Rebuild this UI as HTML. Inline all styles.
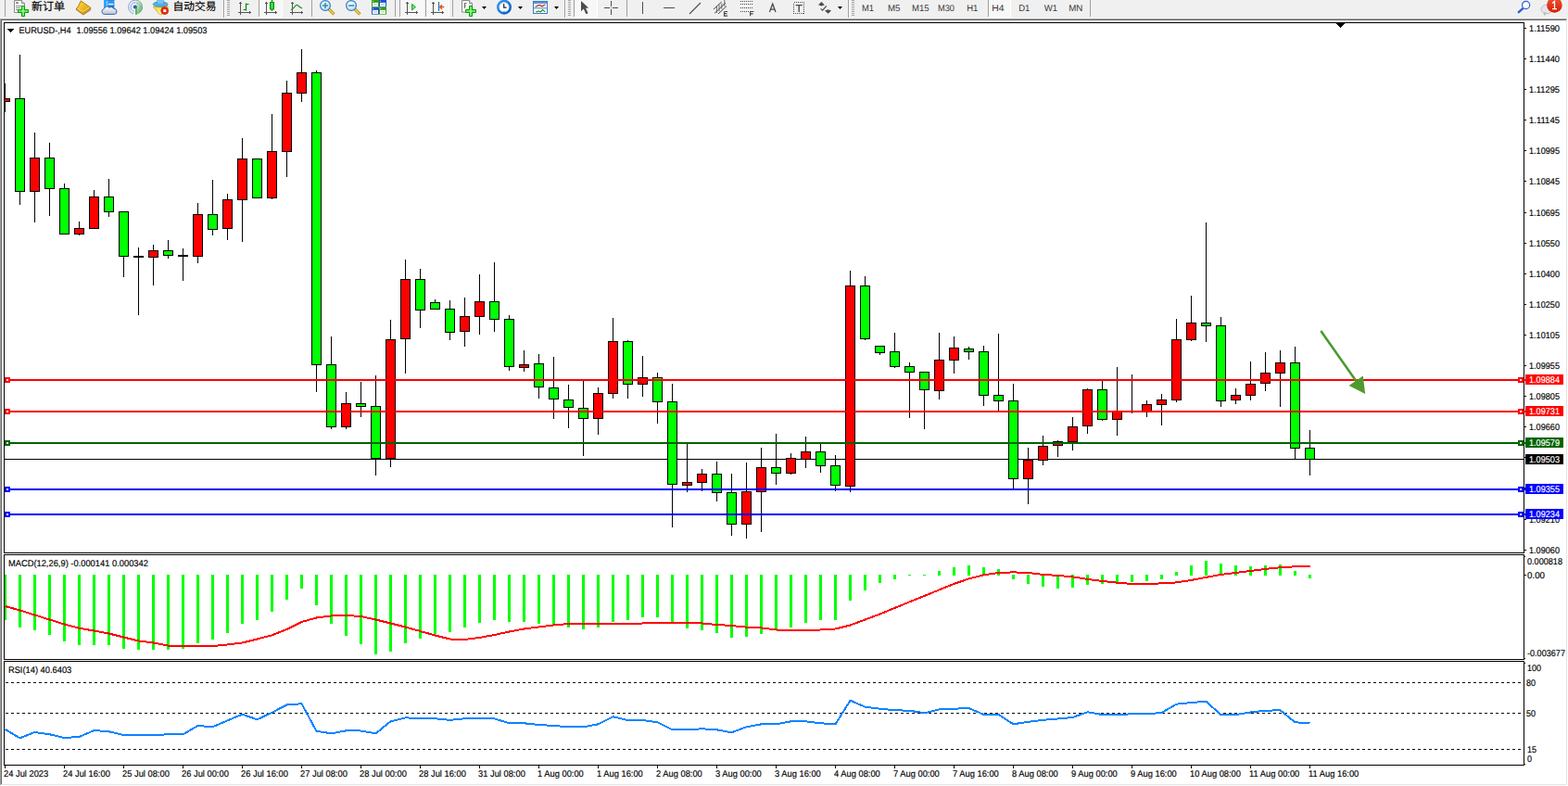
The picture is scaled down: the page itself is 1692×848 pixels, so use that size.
<!DOCTYPE html>
<html><head><meta charset="utf-8"><title>EURUSD-,H4</title>
<style>
html,body{margin:0;padding:0;background:#fff;overflow:hidden}
body{width:1692px;height:848px}
text{stroke-width:.16px}
svg{display:block;font-family:"Liberation Sans",sans-serif;font-size:9.8px;text-rendering:geometricPrecision}
</style></head><body>
<svg width="1692" height="848" viewBox="0 0 1692 848" shape-rendering="crispEdges">
<rect x="0" y="0" width="1692" height="19" fill="#f0f0f0"/>
<rect x="0" y="19" width="1692" height="1" fill="#f8f8f8"/>
<rect x="0" y="20" width="1691" height="1" fill="#a0a0a0"/>
<rect x="1" y="21" width="1690" height="1" fill="#696969"/>
<rect x="0" y="20" width="1" height="827" fill="#a0a0a0"/>
<rect x="1" y="21" width="1" height="825" fill="#696969"/>
<rect x="1690" y="21" width="1" height="826" fill="#e3e3e3"/>
<rect x="1" y="846" width="1690" height="1" fill="#e3e3e3"/>
<g fill="#000">
<rect x="4" y="24" width="1641" height="1" fill="#000"/>
<rect x="4" y="24" width="1" height="802" fill="#000"/>
<rect x="1644" y="24" width="1" height="802" fill="#000"/>
<rect x="4" y="596" width="1641" height="1" fill="#000"/>
<rect x="4" y="598" width="1641" height="1" fill="#000"/>
<rect x="4" y="711" width="1641" height="1" fill="#000"/>
<rect x="4" y="713" width="1641" height="1" fill="#000"/>
<rect x="4" y="825" width="1641" height="1" fill="#000"/>
</g>
<rect x="4" y="597" width="1641" height="1" fill="#fff"/>
<rect x="4" y="712" width="1641" height="1" fill="#fff"/>
<path d="M1442 25h9l-4.5 5z" fill="#000"/>
<rect x="1442" y="25" width="9" height="1" fill="#000"/>
<rect x="1443" y="26" width="7" height="1" fill="#000"/>
<rect x="1444" y="27" width="5" height="1" fill="#000"/>
<rect x="1445" y="28" width="3" height="1" fill="#000"/>
<rect x="1446" y="29" width="1" height="1" fill="#000"/>
<rect x="1645" y="30" width="2" height="1" fill="#000"/>
<text transform="translate(1650 34) scale(0.918 1)" stroke="#000" textLength="35.95" lengthAdjust="spacingAndGlyphs">1.11590</text>
<rect x="1645" y="63" width="2" height="1" fill="#000"/>
<text transform="translate(1650 67) scale(0.918 1)" stroke="#000" textLength="35.95" lengthAdjust="spacingAndGlyphs">1.11440</text>
<rect x="1645" y="96" width="2" height="1" fill="#000"/>
<text transform="translate(1650 100) scale(0.918 1)" stroke="#000" textLength="35.95" lengthAdjust="spacingAndGlyphs">1.11295</text>
<rect x="1645" y="129" width="2" height="1" fill="#000"/>
<text transform="translate(1650 133) scale(0.918 1)" stroke="#000" textLength="35.95" lengthAdjust="spacingAndGlyphs">1.11145</text>
<rect x="1645" y="162" width="2" height="1" fill="#000"/>
<text transform="translate(1650 166) scale(0.918 1)" stroke="#000" textLength="35.95" lengthAdjust="spacingAndGlyphs">1.10995</text>
<rect x="1645" y="195" width="2" height="1" fill="#000"/>
<text transform="translate(1650 199) scale(0.918 1)" stroke="#000" textLength="35.95" lengthAdjust="spacingAndGlyphs">1.10845</text>
<rect x="1645" y="229" width="2" height="1" fill="#000"/>
<text transform="translate(1650 233) scale(0.918 1)" stroke="#000" textLength="35.95" lengthAdjust="spacingAndGlyphs">1.10695</text>
<rect x="1645" y="262" width="2" height="1" fill="#000"/>
<text transform="translate(1650 266) scale(0.918 1)" stroke="#000" textLength="35.95" lengthAdjust="spacingAndGlyphs">1.10550</text>
<rect x="1645" y="295" width="2" height="1" fill="#000"/>
<text transform="translate(1650 299) scale(0.918 1)" stroke="#000" textLength="35.95" lengthAdjust="spacingAndGlyphs">1.10400</text>
<rect x="1645" y="328" width="2" height="1" fill="#000"/>
<text transform="translate(1650 332) scale(0.918 1)" stroke="#000" textLength="35.95" lengthAdjust="spacingAndGlyphs">1.10250</text>
<rect x="1645" y="361" width="2" height="1" fill="#000"/>
<text transform="translate(1650 365) scale(0.918 1)" stroke="#000" textLength="35.95" lengthAdjust="spacingAndGlyphs">1.10105</text>
<rect x="1645" y="394" width="2" height="1" fill="#000"/>
<text transform="translate(1650 398) scale(0.918 1)" stroke="#000" textLength="35.95" lengthAdjust="spacingAndGlyphs">1.09955</text>
<rect x="1645" y="427" width="2" height="1" fill="#000"/>
<text transform="translate(1650 431) scale(0.918 1)" stroke="#000" textLength="35.95" lengthAdjust="spacingAndGlyphs">1.09805</text>
<rect x="1645" y="460" width="2" height="1" fill="#000"/>
<text transform="translate(1650 464) scale(0.918 1)" stroke="#000" textLength="35.95" lengthAdjust="spacingAndGlyphs">1.09660</text>
<rect x="1645" y="493" width="2" height="1" fill="#000"/>
<text transform="translate(1650 497) scale(0.918 1)" stroke="#000" textLength="35.95" lengthAdjust="spacingAndGlyphs">1.09510</text>
<rect x="1645" y="526" width="2" height="1" fill="#000"/>
<text transform="translate(1650 530) scale(0.918 1)" stroke="#000" textLength="35.95" lengthAdjust="spacingAndGlyphs">1.09360</text>
<rect x="1645" y="560" width="2" height="1" fill="#000"/>
<text transform="translate(1650 564) scale(0.918 1)" stroke="#000" textLength="35.95" lengthAdjust="spacingAndGlyphs">1.09210</text>
<rect x="1645" y="593" width="2" height="1" fill="#000"/>
<text transform="translate(1650 597) scale(0.918 1)" stroke="#000" textLength="35.95" lengthAdjust="spacingAndGlyphs">1.09060</text>
<rect x="5" y="495" width="1639" height="1" fill="#000"/>
<g fill="#000"><rect x="5" y="90" width="1" height="31"/><rect x="5" y="106" width="6" height="4"/><rect x="5" y="107" width="5" height="2" fill="#f00"/><rect x="21" y="59" width="1" height="162"/><rect x="16" y="106" width="11" height="101"/><rect x="17" y="107" width="9" height="99" fill="#0f0"/><rect x="37" y="143" width="1" height="97"/><rect x="32" y="170" width="11" height="37"/><rect x="33" y="171" width="9" height="35" fill="#f00"/><rect x="53" y="154" width="1" height="79"/><rect x="48" y="170" width="11" height="34"/><rect x="49" y="171" width="9" height="32" fill="#0f0"/><rect x="69" y="198" width="1" height="55"/><rect x="64" y="203" width="11" height="50"/><rect x="65" y="204" width="9" height="48" fill="#0f0"/><rect x="85" y="239" width="1" height="15"/><rect x="80" y="246" width="11" height="7"/><rect x="81" y="247" width="9" height="5" fill="#f00"/><rect x="101" y="205" width="1" height="42"/><rect x="96" y="212" width="11" height="35"/><rect x="97" y="213" width="9" height="33" fill="#f00"/><rect x="117" y="193" width="1" height="41"/><rect x="112" y="212" width="11" height="17"/><rect x="113" y="213" width="9" height="15" fill="#0f0"/><rect x="133" y="228" width="1" height="71"/><rect x="128" y="228" width="11" height="49"/><rect x="129" y="229" width="9" height="47" fill="#0f0"/><rect x="149" y="267" width="1" height="73"/><rect x="144" y="276" width="11" height="2"/><rect x="165" y="264" width="1" height="44"/><rect x="160" y="270" width="11" height="8"/><rect x="161" y="271" width="9" height="6" fill="#f00"/><rect x="181" y="259" width="1" height="20"/><rect x="176" y="270" width="11" height="6"/><rect x="177" y="271" width="9" height="4" fill="#0f0"/><rect x="197" y="268" width="1" height="35"/><rect x="192" y="275" width="11" height="2"/><rect x="213" y="219" width="1" height="65"/><rect x="208" y="231" width="11" height="46"/><rect x="209" y="232" width="9" height="44" fill="#f00"/><rect x="229" y="194" width="1" height="60"/><rect x="224" y="231" width="11" height="17"/><rect x="225" y="232" width="9" height="15" fill="#0f0"/><rect x="245" y="209" width="1" height="50"/><rect x="240" y="215" width="11" height="32"/><rect x="241" y="216" width="9" height="30" fill="#f00"/><rect x="261" y="149" width="1" height="112"/><rect x="256" y="171" width="11" height="45"/><rect x="257" y="172" width="9" height="43" fill="#f00"/><rect x="277" y="171" width="1" height="43"/><rect x="272" y="171" width="11" height="43"/><rect x="273" y="172" width="9" height="41" fill="#0f0"/><rect x="293" y="123" width="1" height="92"/><rect x="288" y="163" width="11" height="51"/><rect x="289" y="164" width="9" height="49" fill="#f00"/><rect x="309" y="87" width="1" height="104"/><rect x="304" y="100" width="11" height="64"/><rect x="305" y="101" width="9" height="62" fill="#f00"/><rect x="325" y="53" width="1" height="57"/><rect x="320" y="78" width="11" height="23"/><rect x="321" y="79" width="9" height="21" fill="#f00"/><rect x="341" y="76" width="1" height="347"/><rect x="336" y="78" width="11" height="316"/><rect x="337" y="79" width="9" height="314" fill="#0f0"/><rect x="357" y="363" width="1" height="100"/><rect x="352" y="393" width="11" height="68"/><rect x="353" y="394" width="9" height="66" fill="#0f0"/><rect x="373" y="423" width="1" height="40"/><rect x="368" y="435" width="11" height="26"/><rect x="369" y="436" width="9" height="24" fill="#f00"/><rect x="389" y="412" width="1" height="38"/><rect x="384" y="435" width="11" height="4"/><rect x="385" y="436" width="9" height="2" fill="#0f0"/><rect x="405" y="405" width="1" height="108"/><rect x="400" y="438" width="11" height="57"/><rect x="401" y="439" width="9" height="55" fill="#0f0"/><rect x="421" y="345" width="1" height="159"/><rect x="416" y="366" width="11" height="129"/><rect x="417" y="367" width="9" height="127" fill="#f00"/><rect x="437" y="280" width="1" height="123"/><rect x="432" y="301" width="11" height="65"/><rect x="433" y="302" width="9" height="63" fill="#f00"/><rect x="453" y="290" width="1" height="64"/><rect x="448" y="301" width="11" height="34"/><rect x="449" y="302" width="9" height="32" fill="#0f0"/><rect x="469" y="323" width="1" height="11"/><rect x="464" y="326" width="11" height="8"/><rect x="465" y="327" width="9" height="6" fill="#0f0"/><rect x="485" y="324" width="1" height="43"/><rect x="480" y="333" width="11" height="26"/><rect x="481" y="334" width="9" height="24" fill="#0f0"/><rect x="501" y="321" width="1" height="53"/><rect x="496" y="341" width="11" height="17"/><rect x="497" y="342" width="9" height="15" fill="#f00"/><rect x="517" y="296" width="1" height="65"/><rect x="512" y="325" width="11" height="17"/><rect x="513" y="326" width="9" height="15" fill="#f00"/><rect x="533" y="283" width="1" height="75"/><rect x="528" y="325" width="11" height="20"/><rect x="529" y="326" width="9" height="18" fill="#0f0"/><rect x="549" y="340" width="1" height="60"/><rect x="544" y="344" width="11" height="52"/><rect x="545" y="345" width="9" height="50" fill="#0f0"/><rect x="565" y="378" width="1" height="23"/><rect x="560" y="393" width="11" height="4"/><rect x="561" y="394" width="9" height="2" fill="#f00"/><rect x="581" y="382" width="1" height="48"/><rect x="576" y="392" width="11" height="26"/><rect x="577" y="393" width="9" height="24" fill="#0f0"/><rect x="597" y="385" width="1" height="67"/><rect x="592" y="418" width="11" height="13"/><rect x="593" y="419" width="9" height="11" fill="#0f0"/><rect x="613" y="415" width="1" height="47"/><rect x="608" y="431" width="11" height="9"/><rect x="609" y="432" width="9" height="7" fill="#0f0"/><rect x="629" y="411" width="1" height="81"/><rect x="624" y="440" width="11" height="12"/><rect x="625" y="441" width="9" height="10" fill="#0f0"/><rect x="645" y="418" width="1" height="51"/><rect x="640" y="424" width="11" height="28"/><rect x="641" y="425" width="9" height="26" fill="#f00"/><rect x="661" y="343" width="1" height="87"/><rect x="656" y="368" width="11" height="57"/><rect x="657" y="369" width="9" height="55" fill="#f00"/><rect x="677" y="367" width="1" height="63"/><rect x="672" y="368" width="11" height="47"/><rect x="673" y="369" width="9" height="45" fill="#0f0"/><rect x="693" y="384" width="1" height="44"/><rect x="688" y="407" width="11" height="8"/><rect x="689" y="408" width="9" height="6" fill="#f00"/><rect x="709" y="402" width="1" height="55"/><rect x="704" y="407" width="11" height="27"/><rect x="705" y="408" width="9" height="25" fill="#0f0"/><rect x="725" y="414" width="1" height="155"/><rect x="720" y="433" width="11" height="90"/><rect x="721" y="434" width="9" height="88" fill="#0f0"/><rect x="741" y="478" width="1" height="53"/><rect x="736" y="520" width="11" height="4"/><rect x="737" y="521" width="9" height="2" fill="#f00"/><rect x="757" y="506" width="1" height="24"/><rect x="752" y="511" width="11" height="10"/><rect x="753" y="512" width="9" height="8" fill="#f00"/><rect x="773" y="498" width="1" height="43"/><rect x="768" y="511" width="11" height="21"/><rect x="769" y="512" width="9" height="19" fill="#0f0"/><rect x="789" y="511" width="1" height="67"/><rect x="784" y="531" width="11" height="35"/><rect x="785" y="532" width="9" height="33" fill="#0f0"/><rect x="805" y="499" width="1" height="82"/><rect x="800" y="530" width="11" height="36"/><rect x="801" y="531" width="9" height="34" fill="#f00"/><rect x="821" y="483" width="1" height="91"/><rect x="816" y="504" width="11" height="27"/><rect x="817" y="505" width="9" height="25" fill="#f00"/><rect x="837" y="468" width="1" height="55"/><rect x="832" y="504" width="11" height="7"/><rect x="833" y="505" width="9" height="5" fill="#0f0"/><rect x="853" y="489" width="1" height="23"/><rect x="848" y="494" width="11" height="17"/><rect x="849" y="495" width="9" height="15" fill="#f00"/><rect x="869" y="471" width="1" height="34"/><rect x="864" y="487" width="11" height="9"/><rect x="865" y="488" width="9" height="7" fill="#f00"/><rect x="885" y="479" width="1" height="31"/><rect x="880" y="487" width="11" height="16"/><rect x="881" y="488" width="9" height="14" fill="#0f0"/><rect x="901" y="491" width="1" height="39"/><rect x="896" y="502" width="11" height="22"/><rect x="897" y="503" width="9" height="20" fill="#0f0"/><rect x="917" y="292" width="1" height="239"/><rect x="912" y="308" width="11" height="217"/><rect x="913" y="309" width="9" height="215" fill="#f00"/><rect x="933" y="298" width="1" height="69"/><rect x="928" y="308" width="11" height="58"/><rect x="929" y="309" width="9" height="56" fill="#0f0"/><rect x="949" y="373" width="1" height="10"/><rect x="944" y="373" width="11" height="8"/><rect x="945" y="374" width="9" height="6" fill="#0f0"/><rect x="965" y="359" width="1" height="38"/><rect x="960" y="379" width="11" height="17"/><rect x="961" y="380" width="9" height="15" fill="#0f0"/><rect x="981" y="391" width="1" height="60"/><rect x="976" y="395" width="11" height="7"/><rect x="977" y="396" width="9" height="5" fill="#0f0"/><rect x="997" y="401" width="1" height="62"/><rect x="992" y="401" width="11" height="20"/><rect x="993" y="402" width="9" height="18" fill="#0f0"/><rect x="1013" y="359" width="1" height="72"/><rect x="1008" y="388" width="11" height="34"/><rect x="1009" y="389" width="9" height="32" fill="#f00"/><rect x="1029" y="363" width="1" height="40"/><rect x="1024" y="375" width="11" height="14"/><rect x="1025" y="376" width="9" height="12" fill="#f00"/><rect x="1045" y="374" width="1" height="14"/><rect x="1040" y="376" width="11" height="4"/><rect x="1041" y="377" width="9" height="2" fill="#0f0"/><rect x="1061" y="373" width="1" height="65"/><rect x="1056" y="379" width="11" height="48"/><rect x="1057" y="380" width="9" height="46" fill="#0f0"/><rect x="1077" y="360" width="1" height="83"/><rect x="1072" y="426" width="11" height="7"/><rect x="1073" y="427" width="9" height="5" fill="#0f0"/><rect x="1093" y="414" width="1" height="113"/><rect x="1088" y="432" width="11" height="85"/><rect x="1089" y="433" width="9" height="83" fill="#0f0"/><rect x="1109" y="483" width="1" height="61"/><rect x="1104" y="496" width="11" height="21"/><rect x="1105" y="497" width="9" height="19" fill="#f00"/><rect x="1125" y="470" width="1" height="32"/><rect x="1120" y="481" width="11" height="16"/><rect x="1121" y="482" width="9" height="14" fill="#f00"/><rect x="1141" y="475" width="1" height="18"/><rect x="1136" y="476" width="11" height="5"/><rect x="1137" y="477" width="9" height="3" fill="#f00"/><rect x="1157" y="450" width="1" height="36"/><rect x="1152" y="460" width="11" height="17"/><rect x="1153" y="461" width="9" height="15" fill="#f00"/><rect x="1173" y="419" width="1" height="49"/><rect x="1168" y="420" width="11" height="40"/><rect x="1169" y="421" width="9" height="38" fill="#f00"/><rect x="1189" y="411" width="1" height="43"/><rect x="1184" y="420" width="11" height="33"/><rect x="1185" y="421" width="9" height="31" fill="#0f0"/><rect x="1205" y="396" width="1" height="74"/><rect x="1200" y="443" width="11" height="10"/><rect x="1201" y="444" width="9" height="8" fill="#f00"/><rect x="1221" y="404" width="1" height="42"/><rect x="1216" y="444" width="11" height="1"/><rect x="1237" y="432" width="1" height="18"/><rect x="1232" y="436" width="11" height="9"/><rect x="1233" y="437" width="9" height="7" fill="#f00"/><rect x="1253" y="425" width="1" height="34"/><rect x="1248" y="431" width="11" height="6"/><rect x="1249" y="432" width="9" height="4" fill="#f00"/><rect x="1269" y="344" width="1" height="90"/><rect x="1264" y="366" width="11" height="66"/><rect x="1265" y="367" width="9" height="64" fill="#f00"/><rect x="1285" y="319" width="1" height="49"/><rect x="1280" y="348" width="11" height="19"/><rect x="1281" y="349" width="9" height="17" fill="#f00"/><rect x="1301" y="240" width="1" height="129"/><rect x="1296" y="348" width="11" height="4"/><rect x="1297" y="349" width="9" height="2" fill="#0f0"/><rect x="1317" y="342" width="1" height="97"/><rect x="1312" y="351" width="11" height="82"/><rect x="1313" y="352" width="9" height="80" fill="#0f0"/><rect x="1333" y="419" width="1" height="17"/><rect x="1328" y="426" width="11" height="6"/><rect x="1329" y="427" width="9" height="4" fill="#f00"/><rect x="1349" y="390" width="1" height="42"/><rect x="1344" y="414" width="11" height="13"/><rect x="1345" y="415" width="9" height="11" fill="#f00"/><rect x="1365" y="380" width="1" height="42"/><rect x="1360" y="402" width="11" height="12"/><rect x="1361" y="403" width="9" height="10" fill="#f00"/><rect x="1381" y="378" width="1" height="61"/><rect x="1376" y="391" width="11" height="12"/><rect x="1377" y="392" width="9" height="10" fill="#f00"/><rect x="1397" y="374" width="1" height="122"/><rect x="1392" y="391" width="11" height="93"/><rect x="1393" y="392" width="9" height="91" fill="#0f0"/><rect x="1413" y="464" width="1" height="49"/><rect x="1408" y="483" width="11" height="13"/><rect x="1409" y="484" width="9" height="11" fill="#0f0"/></g>
<rect x="5" y="409" width="1641" height="2" fill="#f00"/>
<rect x="5" y="407" width="6" height="6" fill="#f00"/>
<rect x="7" y="409" width="2" height="2" fill="#fff"/>
<rect x="1638" y="407" width="6" height="6" fill="#f00"/>
<rect x="1640" y="409" width="2" height="2" fill="#fff"/>
<rect x="1646" y="404" width="41" height="11" fill="#f00"/>
<text transform="translate(1650 413) scale(0.918 1)" fill="#fff" stroke="#fff" textLength="35.95" lengthAdjust="spacingAndGlyphs">1.09884</text>
<rect x="5" y="443" width="1641" height="2" fill="#f00"/>
<rect x="5" y="441" width="6" height="6" fill="#f00"/>
<rect x="7" y="443" width="2" height="2" fill="#fff"/>
<rect x="1638" y="441" width="6" height="6" fill="#f00"/>
<rect x="1640" y="443" width="2" height="2" fill="#fff"/>
<rect x="1646" y="438" width="41" height="11" fill="#f00"/>
<text transform="translate(1650 447) scale(0.918 1)" fill="#fff" stroke="#fff" textLength="35.95" lengthAdjust="spacingAndGlyphs">1.09731</text>
<rect x="5" y="477" width="1641" height="2" fill="#006400"/>
<rect x="5" y="475" width="6" height="6" fill="#006400"/>
<rect x="7" y="477" width="2" height="2" fill="#fff"/>
<rect x="1638" y="475" width="6" height="6" fill="#006400"/>
<rect x="1640" y="477" width="2" height="2" fill="#fff"/>
<rect x="1646" y="472" width="41" height="11" fill="#006400"/>
<text transform="translate(1650 481) scale(0.918 1)" fill="#fff" stroke="#fff" textLength="35.95" lengthAdjust="spacingAndGlyphs">1.09579</text>
<rect x="5" y="527" width="1641" height="2" fill="#00f"/>
<rect x="5" y="525" width="6" height="6" fill="#00f"/>
<rect x="7" y="527" width="2" height="2" fill="#fff"/>
<rect x="1638" y="525" width="6" height="6" fill="#00f"/>
<rect x="1640" y="527" width="2" height="2" fill="#fff"/>
<rect x="1646" y="522" width="41" height="11" fill="#00f"/>
<text transform="translate(1650 531) scale(0.918 1)" fill="#fff" stroke="#fff" textLength="35.95" lengthAdjust="spacingAndGlyphs">1.09355</text>
<rect x="5" y="554" width="1641" height="2" fill="#00f"/>
<rect x="5" y="552" width="6" height="6" fill="#00f"/>
<rect x="7" y="554" width="2" height="2" fill="#fff"/>
<rect x="1638" y="552" width="6" height="6" fill="#00f"/>
<rect x="1640" y="554" width="2" height="2" fill="#fff"/>
<rect x="1646" y="549" width="41" height="11" fill="#00f"/>
<text transform="translate(1650 558) scale(0.918 1)" fill="#fff" stroke="#fff" textLength="35.95" lengthAdjust="spacingAndGlyphs">1.09234</text>
<rect x="1646" y="490" width="41" height="11" fill="#000"/>
<text transform="translate(1650 499) scale(0.918 1)" fill="#fff" stroke="#fff" textLength="35.95" lengthAdjust="spacingAndGlyphs">1.09503</text>
<g shape-rendering="auto"><line x1="1425.3" y1="357" x2="1464" y2="412" stroke="#4e9a2f" stroke-width="2.6"/><path d="M1473.2 425 L1455.6 416 L1470.8 405.6 Z" fill="#4e9a2f"/></g>
<g fill="#0f0"><rect x="4" y="620" width="3" height="49"/><rect x="20" y="620" width="3" height="57"/><rect x="36" y="620" width="3" height="60"/><rect x="52" y="620" width="3" height="65"/><rect x="68" y="620" width="3" height="72"/><rect x="84" y="620" width="3" height="76"/><rect x="100" y="620" width="3" height="76"/><rect x="116" y="620" width="3" height="76"/><rect x="132" y="620" width="3" height="80"/><rect x="148" y="620" width="3" height="81"/><rect x="164" y="620" width="3" height="81"/><rect x="180" y="620" width="3" height="81"/><rect x="196" y="620" width="3" height="80"/><rect x="212" y="620" width="3" height="74"/><rect x="228" y="620" width="3" height="70"/><rect x="244" y="620" width="3" height="63"/><rect x="260" y="620" width="3" height="53"/><rect x="276" y="620" width="3" height="49"/><rect x="292" y="620" width="3" height="40"/><rect x="308" y="620" width="3" height="27"/><rect x="324" y="620" width="3" height="15"/><rect x="340" y="620" width="3" height="33"/><rect x="356" y="620" width="3" height="53"/><rect x="372" y="620" width="3" height="66"/><rect x="388" y="620" width="3" height="75"/><rect x="404" y="620" width="3" height="86"/><rect x="420" y="620" width="3" height="83"/><rect x="436" y="620" width="3" height="74"/><rect x="452" y="620" width="3" height="69"/><rect x="468" y="620" width="3" height="64"/><rect x="484" y="620" width="3" height="62"/><rect x="500" y="620" width="3" height="57"/><rect x="516" y="620" width="3" height="52"/><rect x="532" y="620" width="3" height="49"/><rect x="548" y="620" width="3" height="51"/><rect x="564" y="620" width="3" height="51"/><rect x="580" y="620" width="3" height="53"/><rect x="596" y="620" width="3" height="54"/><rect x="612" y="620" width="3" height="57"/><rect x="628" y="620" width="3" height="59"/><rect x="644" y="620" width="3" height="57"/><rect x="660" y="620" width="3" height="51"/><rect x="676" y="620" width="3" height="49"/><rect x="692" y="620" width="3" height="46"/><rect x="708" y="620" width="3" height="46"/><rect x="724" y="620" width="3" height="52"/><rect x="740" y="620" width="3" height="58"/><rect x="756" y="620" width="3" height="60"/><rect x="772" y="620" width="3" height="63"/><rect x="788" y="620" width="3" height="68"/><rect x="804" y="620" width="3" height="67"/><rect x="820" y="620" width="3" height="64"/><rect x="836" y="620" width="3" height="60"/><rect x="852" y="620" width="3" height="57"/><rect x="868" y="620" width="3" height="52"/><rect x="884" y="620" width="3" height="49"/><rect x="900" y="620" width="3" height="49"/><rect x="916" y="620" width="3" height="28"/><rect x="932" y="620" width="3" height="17"/><rect x="948" y="620" width="3" height="9"/><rect x="964" y="620" width="3" height="5"/><rect x="980" y="620" width="3" height="1"/><rect x="996" y="620" width="3" height="1"/><rect x="1012" y="616" width="3" height="5"/><rect x="1028" y="612" width="3" height="9"/><rect x="1044" y="610" width="3" height="11"/><rect x="1060" y="612" width="3" height="9"/><rect x="1076" y="614" width="3" height="7"/><rect x="1092" y="620" width="3" height="5"/><rect x="1108" y="620" width="3" height="10"/><rect x="1124" y="620" width="3" height="13"/><rect x="1140" y="620" width="3" height="15"/><rect x="1156" y="620" width="3" height="14"/><rect x="1172" y="620" width="3" height="11"/><rect x="1188" y="620" width="3" height="10"/><rect x="1204" y="620" width="3" height="8"/><rect x="1220" y="620" width="3" height="8"/><rect x="1236" y="620" width="3" height="7"/><rect x="1252" y="620" width="3" height="5"/><rect x="1268" y="617" width="3" height="4"/><rect x="1284" y="610" width="3" height="11"/><rect x="1300" y="605" width="3" height="16"/><rect x="1316" y="608" width="3" height="13"/><rect x="1332" y="610" width="3" height="11"/><rect x="1348" y="611" width="3" height="10"/><rect x="1364" y="610" width="3" height="11"/><rect x="1380" y="609" width="3" height="12"/><rect x="1396" y="616" width="3" height="5"/><rect x="1412" y="620" width="3" height="4"/></g>
<rect x="2" y="599" width="2" height="112" fill="#fff"/>
<rect x="4" y="599" width="1" height="112" fill="#000"/>
<polyline points="5.5,653.9 21.5,658.5 37.5,663.5 53.5,668.5 69.5,673.5 85.5,677.8 101.5,680.5 117.5,683.5 133.5,687.5 149.5,691.5 165.5,693.5 181.5,696.6 197.5,697.1 213.5,697.1 229.5,697.1 245.5,695.5 261.5,693.5 277.5,689.5 293.5,685.3 309.5,679.0 325.5,671.0 341.5,666.5 357.5,664.5 373.5,664.0 389.5,665.0 405.5,668.5 421.5,672.5 437.5,676.5 453.5,681.0 469.5,685.5 485.5,689.5 501.5,690.0 517.5,688.0 533.5,685.0 549.5,681.5 565.5,678.5 581.5,676.5 597.5,674.5 613.5,673.0 629.5,673.0 645.5,673.0 661.5,673.0 677.5,673.0 693.5,672.5 709.5,672.0 725.5,672.0 741.5,672.0 757.5,672.5 773.5,674.0 789.5,675.0 805.5,676.7 821.5,677.5 837.5,679.5 853.5,680.0 869.5,680.0 885.5,679.5 901.5,678.5 917.5,674.5 933.5,668.5 949.5,662.5 965.5,655.9 981.5,649.4 997.5,642.9 1013.5,636.4 1029.5,629.9 1045.5,624.4 1061.5,620.4 1077.5,617.9 1093.5,617.4 1109.5,617.9 1125.5,619.9 1141.5,620.9 1157.5,622.4 1173.5,624.9 1189.5,626.9 1205.5,628.7 1221.5,629.9 1237.5,629.9 1253.5,629.4 1269.5,628.4 1285.5,625.9 1301.5,622.9 1317.5,619.9 1333.5,617.9 1349.5,615.9 1365.5,613.9 1381.5,612.3 1397.5,611.3 1413.5,611.3" fill="none" stroke="#f00" stroke-width="2" stroke-linejoin="round" shape-rendering="crispEdges"/>
<text transform="translate(8.9 611) scale(0.918 1)" stroke="#000" textLength="164.49" lengthAdjust="spacingAndGlyphs">MACD(12,26,9) -0.000141 0.000342</text>
<rect x="1645" y="600" width="1" height="1" fill="#000"/>
<rect x="1645" y="710" width="1" height="1" fill="#000"/>
<rect x="1645" y="715" width="1" height="1" fill="#000"/>
<rect x="1645" y="824" width="1" height="1" fill="#000"/>
<text transform="translate(1648 609) scale(0.918 1)" stroke="#000" textLength="41.39" lengthAdjust="spacingAndGlyphs">0.000818</text>
<rect x="1645" y="620" width="2" height="1" fill="#000"/>
<text transform="translate(1648 624) scale(0.918 1)" stroke="#000" textLength="20.70" lengthAdjust="spacingAndGlyphs">0.00</text>
<text transform="translate(1648 708) scale(0.918 1)" stroke="#000" textLength="44.66" lengthAdjust="spacingAndGlyphs">-0.003677</text>
<path d="M6 736.5H1644" stroke="#000" stroke-width="1" stroke-dasharray="3 3" fill="none"/>
<path d="M6 769.5H1644" stroke="#000" stroke-width="1" stroke-dasharray="3 3" fill="none"/>
<path d="M6 808.5H1644" stroke="#000" stroke-width="1" stroke-dasharray="3 3" fill="none"/>
<polyline points="5.5,786.8 21.5,796.3 37.5,790.0 53.5,792.3 69.5,796.0 85.5,795.0 101.5,788.0 117.5,789.3 133.5,793.0 149.5,793.3 165.5,793.0 181.5,792.3 197.5,792.3 213.5,783.0 229.5,784.3 245.5,777.3 261.5,770.7 277.5,776.3 293.5,768.7 309.5,760.5 325.5,759.2 341.5,788.8 357.5,791.3 373.5,788.3 389.5,788.5 405.5,791.3 421.5,778.3 437.5,774.3 453.5,775.3 469.5,775.3 485.5,776.8 501.5,775.3 517.5,775.3 533.5,775.3 549.5,780.3 565.5,780.3 581.5,782.0 597.5,783.0 613.5,784.3 629.5,784.3 645.5,781.3 661.5,773.3 677.5,777.0 693.5,777.0 709.5,779.3 725.5,787.3 741.5,787.3 757.5,786.3 773.5,787.3 789.5,790.3 805.5,784.3 821.5,781.3 837.5,781.3 853.5,778.3 869.5,778.3 885.5,780.3 901.5,781.3 917.5,755.7 933.5,762.7 949.5,764.7 965.5,766.3 981.5,766.7 997.5,769.3 1013.5,765.3 1029.5,764.7 1045.5,764.0 1061.5,771.0 1077.5,771.0 1093.5,781.3 1109.5,778.8 1125.5,776.8 1141.5,775.5 1157.5,774.0 1173.5,768.3 1189.5,771.0 1205.5,771.0 1221.5,770.3 1237.5,770.3 1253.5,769.0 1269.5,759.7 1285.5,758.0 1301.5,756.7 1317.5,771.3 1333.5,771.0 1349.5,768.5 1365.5,766.7 1381.5,766.3 1397.5,779.3 1413.5,780.3" fill="none" stroke="#0a84ff" stroke-width="2" stroke-linejoin="round" shape-rendering="crispEdges"/>
<text transform="translate(8.9 726) scale(0.918 1)" stroke="#000" textLength="74.51" lengthAdjust="spacingAndGlyphs">RSI(14) 40.6403</text>
<text transform="translate(1648 724) scale(0.918 1)" stroke="#000">100</text>
<text transform="translate(1647 740) scale(0.918 1)" stroke="#000">80</text>
<text transform="translate(1647 773) scale(0.918 1)" stroke="#000">50</text>
<text transform="translate(1648 812) scale(0.918 1)" stroke="#000">15</text>
<text transform="translate(1648 822) scale(0.918 1)" stroke="#000">0</text>
<rect x="5" y="826" width="1" height="3" fill="#000"/>
<text transform="translate(4.1 838) scale(0.95 1)" stroke="#000">24 Jul 2023</text>
<rect x="69" y="826" width="1" height="3" fill="#000"/>
<text transform="translate(68.1 838) scale(0.95 1)" stroke="#000">24 Jul 16:00</text>
<rect x="133" y="826" width="1" height="3" fill="#000"/>
<text transform="translate(132.1 838) scale(0.95 1)" stroke="#000">25 Jul 08:00</text>
<rect x="197" y="826" width="1" height="3" fill="#000"/>
<text transform="translate(196.1 838) scale(0.95 1)" stroke="#000">26 Jul 00:00</text>
<rect x="261" y="826" width="1" height="3" fill="#000"/>
<text transform="translate(260.1 838) scale(0.95 1)" stroke="#000">26 Jul 16:00</text>
<rect x="325" y="826" width="1" height="3" fill="#000"/>
<text transform="translate(324.1 838) scale(0.95 1)" stroke="#000">27 Jul 08:00</text>
<rect x="389" y="826" width="1" height="3" fill="#000"/>
<text transform="translate(388.1 838) scale(0.95 1)" stroke="#000">28 Jul 00:00</text>
<rect x="453" y="826" width="1" height="3" fill="#000"/>
<text transform="translate(452.1 838) scale(0.95 1)" stroke="#000">28 Jul 16:00</text>
<rect x="517" y="826" width="1" height="3" fill="#000"/>
<text transform="translate(516.1 838) scale(0.95 1)" stroke="#000">31 Jul 08:00</text>
<rect x="581" y="826" width="1" height="3" fill="#000"/>
<text transform="translate(580.1 838) scale(0.95 1)" stroke="#000">1 Aug 00:00</text>
<rect x="645" y="826" width="1" height="3" fill="#000"/>
<text transform="translate(644.1 838) scale(0.95 1)" stroke="#000">1 Aug 16:00</text>
<rect x="709" y="826" width="1" height="3" fill="#000"/>
<text transform="translate(708.1 838) scale(0.95 1)" stroke="#000">2 Aug 08:00</text>
<rect x="773" y="826" width="1" height="3" fill="#000"/>
<text transform="translate(772.1 838) scale(0.95 1)" stroke="#000">3 Aug 00:00</text>
<rect x="837" y="826" width="1" height="3" fill="#000"/>
<text transform="translate(836.1 838) scale(0.95 1)" stroke="#000">3 Aug 16:00</text>
<rect x="901" y="826" width="1" height="3" fill="#000"/>
<text transform="translate(900.1 838) scale(0.95 1)" stroke="#000">4 Aug 08:00</text>
<rect x="965" y="826" width="1" height="3" fill="#000"/>
<text transform="translate(964.1 838) scale(0.95 1)" stroke="#000">7 Aug 00:00</text>
<rect x="1029" y="826" width="1" height="3" fill="#000"/>
<text transform="translate(1028.1 838) scale(0.95 1)" stroke="#000">7 Aug 16:00</text>
<rect x="1093" y="826" width="1" height="3" fill="#000"/>
<text transform="translate(1092.1 838) scale(0.95 1)" stroke="#000">8 Aug 08:00</text>
<rect x="1157" y="826" width="1" height="3" fill="#000"/>
<text transform="translate(1156.1 838) scale(0.95 1)" stroke="#000">9 Aug 00:00</text>
<rect x="1221" y="826" width="1" height="3" fill="#000"/>
<text transform="translate(1220.1 838) scale(0.95 1)" stroke="#000">9 Aug 16:00</text>
<rect x="1285" y="826" width="1" height="3" fill="#000"/>
<text transform="translate(1284.1 838) scale(0.95 1)" stroke="#000">10 Aug 08:00</text>
<rect x="1349" y="826" width="1" height="3" fill="#000"/>
<text transform="translate(1348.1 838) scale(0.95 1)" stroke="#000">11 Aug 00:00</text>
<rect x="1413" y="826" width="1" height="3" fill="#000"/>
<text transform="translate(1412.1 838) scale(0.95 1)" stroke="#000">11 Aug 16:00</text>
<path d="M8 31h7l-3.5 4z" fill="#000"/>
<rect x="8" y="31" width="7" height="1" fill="#000"/>
<rect x="9" y="32" width="5" height="1" fill="#000"/>
<rect x="10" y="33" width="3" height="1" fill="#000"/>
<rect x="11" y="34" width="1" height="1" fill="#000"/>
<text transform="translate(20.4 36) scale(0.918 1)" stroke="#000" textLength="61.22" lengthAdjust="spacingAndGlyphs">EURUSD-,H4</text>
<text transform="translate(82.6 36) scale(0.918 1)" stroke="#000" textLength="153.49" lengthAdjust="spacingAndGlyphs">1.09556 1.09642 1.09424 1.09503</text>
<g shape-rendering="auto">
<defs>
<linearGradient id="gold" x1="0" y1="0" x2="1" y2="1"><stop offset="0" stop-color="#ffe060"/><stop offset=".5" stop-color="#f0b818"/><stop offset="1" stop-color="#c88010"/></linearGradient>
<linearGradient id="bl" x1="0" y1="0" x2="0" y2="1"><stop offset="0" stop-color="#30a8ff"/><stop offset="1" stop-color="#0878e0"/></linearGradient>
<linearGradient id="cl" x1="0" y1="0" x2="0" y2="1"><stop offset="0" stop-color="#ffffff"/><stop offset="1" stop-color="#b8c4dc"/></linearGradient>
<radialGradient id="lens" cx=".4" cy=".35" r=".7"><stop offset="0" stop-color="#f4fbff"/><stop offset="1" stop-color="#b8e0f4"/></radialGradient>
<linearGradient id="rd" x1="0" y1="0" x2="0" y2="1"><stop offset="0" stop-color="#e85838"/><stop offset="1" stop-color="#dc1c00"/></linearGradient>
<linearGradient id="ck" x1="0" y1="0" x2="1" y2="1"><stop offset="0" stop-color="#3aa0f0"/><stop offset="1" stop-color="#0858c0"/></linearGradient>
<pattern id="chk" width="2" height="2" patternUnits="userSpaceOnUse"><rect width="2" height="2" fill="#fff"/><rect width="1" height="1" fill="#f0f0f0"/><rect x="1" y="1" width="1" height="1" fill="#f0f0f0"/></pattern>
<clipPath id="tbclip"><rect x="0" y="0" width="1692" height="19"/></clipPath>
</defs>
<g clip-path="url(#tbclip)">
<rect x="5" y="0" width="1" height="18" fill="#a0a0a0" shape-rendering="crispEdges"/>
<path d="M15.5 0.5h8l3 3v10h-11z" fill="#fff" stroke="#8a8a8a"/><path d="M23.5 0.5v3h3" fill="#e8e8e8" stroke="#8a8a8a"/>
<path d="M17 6.5h6M17 8.5h5M17 10.5h3" stroke="#8c8c8c" fill="none"/><rect x="17" y="2.2" width="3" height="1.6" fill="#7c7c7c"/>
<path d="M23.5 6.5h3v4h4v3h-4v4h-3v-4h-4v-3h4z" fill="#22d822" stroke="#0e980e" stroke-width="1"/><path d="M24.4 7h1.2v4.4h4.4v1.2h-4.4v4.4h-1.2v-4.4h-4.4v-1.2h4.4z" fill="#a4ffa4"/>
<text x="34" y="11.3" font-size="12" fill="#000" stroke="#000" font-family="'Liberation Sans','Noto Sans CJK SC',sans-serif" textLength="36" lengthAdjust="spacingAndGlyphs">新订单</text>
<path d="M87.2 .9 L97.9 8.4 L97.5 10.8 L89.8 15.9 L82 10.2 Q85.4 6.4 87.2 .9 Z" fill="url(#gold)" stroke="#b07a14" stroke-width="1"/><path d="M82.8 10.6 L89.7 15 L97.3 9.8 L96.8 8.2 L89.4 13 L83.4 9.4z" fill="#c89a3c" opacity=".85"/><path d="M84.2 9.6 L89.4 12.6 L96.4 8" fill="none" stroke="#fff0a0" stroke-width=".9" opacity=".9"/>
<path d="M112 -1h11.4v10.5h-11.4z" fill="url(#bl)"/><path d="M112 -1l3.6 1.6v9l-3.6 0z" fill="#28a8ff"/><path d="M115.7 .6v9" stroke="#d8f0ff" stroke-width=".8"/><path d="M112 -1h11.4v1.6h-7.8l-3.6 -1.2z" fill="#5c5cb8"/><rect x="117" y="3.8" width="5.4" height="1.5" fill="#e8f6ff"/><rect x="117" y="6.6" width="5.4" height="1" fill="#0860c0" opacity=".6"/>
<path d="M112.8 15.4 a3 3 0 0 1 -.6 -5.9 a3.4 3.4 0 0 1 5.8 -1.3 a3.2 3.2 0 0 1 4.6 1.2 a3 3 0 0 1 .8 6 z" fill="url(#cl)" stroke="#4464a8" stroke-width="1"/>
<defs><linearGradient id="sg" x1="0" y1="0" x2=".6" y2="1"><stop offset="0" stop-color="#e0eedc" stop-opacity=".5"/><stop offset="1" stop-color="#38a838" stop-opacity=".75"/></linearGradient></defs><path d="M146.8 7.7 V15.6 A7.9 7.9 0 0 0 153.7 6 A7.9 7.9 0 0 0 146.8 -.2 z" fill="url(#sg)"/><g fill="none" stroke-width="1"><path d="M146.4 .2 A7.5 7.5 0 0 0 144 14.9" stroke="#3c6cd8" opacity=".6"/><path d="M146.4 2.9 A4.8 4.8 0 0 0 144.6 12.3" stroke="#3c6cd8" opacity=".55"/><path d="M146.6 .2 A7.5 7.5 0 0 1 150.5 13.7" stroke="#4c8c8c" opacity=".6"/><path d="M146.6 2.9 A4.8 4.8 0 0 1 149.6 11.4" stroke="#5c9c90" opacity=".55"/></g><circle cx="145.8" cy="7.6" r="2" fill="#2a58d0"/><path d="M146.9 8V15.7" stroke="#20a820" stroke-width="1.3"/>
<defs><linearGradient id="yf" x1="0" y1="0" x2=".3" y2="1"><stop offset="0" stop-color="#f4cc30"/><stop offset="1" stop-color="#ffff98"/></linearGradient></defs><path d="M165.4 7.4 L181 6.4 L181 9 L174.4 15.6 Q172.8 16.2 171.6 15 Z" fill="url(#yf)" stroke="#c8981c" stroke-width=".7"/><ellipse cx="173.1" cy="4.6" rx="7.9" ry="2.7" fill="#58b0e4" stroke="#2484b4" stroke-width=".8"/><path d="M169.2 3.9 Q169.4 -3 173.1 -3.2 Q176.8 -3 177 3.9 Q173.2 5.6 169.2 3.9z" fill="#74c4f4" stroke="#2c8cbc" stroke-width=".5"/><circle cx="177.7" cy="11.5" r="3.9" fill="#f02c0c" stroke="#c42408" stroke-width=".9"/><rect x="176.3" y="10.2" width="2.9" height="2.8" fill="#fff"/>
<text x="186.6" y="11.2" font-size="11.75" fill="#000" stroke="#000" font-family="'Liberation Sans','Noto Sans CJK SC',sans-serif" textLength="47" lengthAdjust="spacingAndGlyphs">自动交易</text>
<rect x="241" y="0" width="1" height="20" fill="#a0a0a0" shape-rendering="crispEdges"/>
<rect x="242" y="0" width="1" height="19" fill="#fbfbfb" shape-rendering="crispEdges"/>
<g fill="#a6a6a6" shape-rendering="crispEdges"><rect x="245" y="0" width="3" height="1"/><rect x="245" y="2" width="3" height="1"/><rect x="245" y="4" width="3" height="1"/><rect x="245" y="6" width="3" height="1"/><rect x="245" y="8" width="3" height="1"/><rect x="245" y="10" width="3" height="1"/><rect x="245" y="12" width="3" height="1"/><rect x="245" y="14" width="3" height="1"/><rect x="245" y="16" width="3" height="1"/></g>
<g fill="#555" shape-rendering="crispEdges"><rect x="259" y="2" width="1" height="14"/><rect x="258" y="3" width="3" height="1"/><rect x="257" y="13" width="14" height="1"/><rect x="269" y="12" width="1" height="3"/></g>
<path d="M265.5 3.5V11.5M265.5 4.5h3M262.5 10.5h3" stroke="#088a08" stroke-width="1.2" fill="none"/>
<rect x="279" y="0" width="25" height="19" fill="url(#chk)" shape-rendering="crispEdges"/>
<rect x="279" y="0" width="1" height="18" fill="#a0a0a0" shape-rendering="crispEdges"/>
<rect x="279" y="18" width="26" height="1" fill="#fff" shape-rendering="crispEdges"/>
<rect x="304" y="0" width="1" height="19" fill="#fff" shape-rendering="crispEdges"/>
<g fill="#555" shape-rendering="crispEdges"><rect x="287" y="2" width="1" height="14"/><rect x="286" y="3" width="3" height="1"/><rect x="285" y="13" width="14" height="1"/><rect x="297" y="12" width="1" height="3"/></g>
<path d="M293.5 0V12" stroke="#088a08" stroke-width="1.2"/><rect x="291.5" y="2.5" width="4" height="7.5" fill="#30e040" stroke="#088a08" stroke-width="1"/>
<g fill="#555" shape-rendering="crispEdges"><rect x="315" y="2" width="1" height="14"/><rect x="314" y="3" width="3" height="1"/><rect x="313" y="13" width="14" height="1"/><rect x="325" y="12" width="1" height="3"/></g>
<path d="M314 10.8 q3 -2 4.5 -4.2 q1.6 -2.2 3.2 -.6 q2 2.2 4.4 3" stroke="#2c962c" stroke-width="1.2" fill="none"/>
<rect x="336" y="0" width="1" height="18" fill="#a0a0a0" shape-rendering="crispEdges"/>
<path d="M354.6 9.6 l5.8 5.8" stroke="#b48a18" stroke-width="3.2"/><path d="M354.8 9.8 l5.2 5.2" stroke="#f4d848" stroke-width="1.6"/><circle cx="351" cy="6" r="5.4" fill="url(#lens)" stroke="#2e7cc4" stroke-width="1.2"/>
<path d="M348 6h6M351 3v6" stroke="#3c84ac" stroke-width="1.5" fill="none"/>
<path d="M382.6 9.6 l5.8 5.8" stroke="#b48a18" stroke-width="3.2"/><path d="M382.8 9.8 l5.2 5.2" stroke="#f4d848" stroke-width="1.6"/><circle cx="379" cy="6" r="5.4" fill="url(#lens)" stroke="#2e7cc4" stroke-width="1.2"/>
<path d="M376 6h6" stroke="#3c84ac" stroke-width="1.5" fill="none"/>
<rect x="401" y="-0.2" width="8" height="7.8" fill="#34a014"/><rect x="402" y="2.9" width="6" height="4" fill="#fff"/><rect x="403" y="4.3" width="4" height="1" fill="#98d880"/><rect x="401.9" y="0.8" width="1" height="1" fill="#fff" opacity=".8"/>
<rect x="409" y="-0.2" width="8" height="7.8" fill="#1c50d0"/><rect x="410" y="2.9" width="6" height="4" fill="#fff"/><rect x="411" y="4.3" width="4" height="1" fill="#90b0f4"/><rect x="409.9" y="0.8" width="1" height="1" fill="#fff" opacity=".8"/>
<rect x="401" y="7.8" width="8" height="7.8" fill="#1c50d0"/><rect x="402" y="10.9" width="6" height="4" fill="#fff"/><rect x="403" y="12.3" width="4" height="1" fill="#90b0f4"/><rect x="401.9" y="8.8" width="1" height="1" fill="#fff" opacity=".8"/>
<rect x="409" y="7.8" width="8" height="7.8" fill="#34a014"/><rect x="410" y="10.9" width="6" height="4" fill="#fff"/><rect x="411" y="12.3" width="4" height="1" fill="#98d880"/><rect x="409.9" y="8.8" width="1" height="1" fill="#fff" opacity=".8"/>
<rect x="426" y="0" width="1" height="18" fill="#a0a0a0" shape-rendering="crispEdges"/>
<rect x="431" y="0" width="25" height="19" fill="url(#chk)" shape-rendering="crispEdges"/>
<rect x="431" y="0" width="1" height="18" fill="#a0a0a0" shape-rendering="crispEdges"/>
<rect x="431" y="18" width="26" height="1" fill="#fff" shape-rendering="crispEdges"/>
<rect x="456" y="0" width="1" height="19" fill="#fff" shape-rendering="crispEdges"/>
<g fill="#555" shape-rendering="crispEdges"><rect x="439" y="2" width="1" height="14"/><rect x="438" y="3" width="3" height="1"/><rect x="437" y="13" width="14" height="1"/><rect x="449" y="12" width="1" height="3"/></g>
<path d="M444.6 4.4 L448.4 7.6 L444.6 10.8z" fill="#7ce87c" stroke="#10a010" stroke-width="1"/>
<rect x="459" y="0" width="25" height="19" fill="url(#chk)" shape-rendering="crispEdges"/>
<rect x="459" y="0" width="1" height="18" fill="#a0a0a0" shape-rendering="crispEdges"/>
<rect x="459" y="18" width="26" height="1" fill="#fff" shape-rendering="crispEdges"/>
<rect x="484" y="0" width="1" height="19" fill="#fff" shape-rendering="crispEdges"/>
<g fill="#555" shape-rendering="crispEdges"><rect x="467" y="2" width="1" height="14"/><rect x="466" y="3" width="3" height="1"/><rect x="465" y="13" width="14" height="1"/><rect x="477" y="12" width="1" height="3"/></g>
<path d="M473.5 2V12" stroke="#1878b4" stroke-width="1.2"/><path d="M474.6 7.5h4.6M474.4 7.5l2.6 -2.2M474.4 7.5l2.6 2.2" stroke="#e05010" stroke-width="1.3" fill="none"/>
<rect x="488" y="0" width="1" height="18" fill="#a0a0a0" shape-rendering="crispEdges"/>
<path d="M498.5 0.5h8l3 3v9.6h-11z" fill="#fff" stroke="#8a8a8a"/><path d="M506.5 0.5v3h3" fill="#e8e8e8" stroke="#8a8a8a"/>
<path d="M501.5 3v6M501.5 3.5h2M501.5 6h1.5" stroke="#6a6048" fill="none" stroke-width=".9"/>
<path d="M506.5 6.5h3v4h4v3h-4v4h-3v-4h-4v-3h4z" fill="#22d822" stroke="#0e980e" stroke-width="1"/><path d="M507.4 7h1.2v4.4h4.4v1.2h-4.4v4.4h-1.2v-4.4h-4.4v-1.2h4.4z" fill="#a4ffa4"/>
<path d="M520 7h5l-2.5 3z" fill="#000"/>
<circle cx="544" cy="7.7" r="6.7" fill="#fff" stroke="url(#ck)" stroke-width="2.6"/><path d="M543.7 4V8.1H546.6" stroke="#222" stroke-width="1.2" fill="none"/><g fill="#a8a8a8"><circle cx="544" cy="2.6" r=".5"/><circle cx="549" cy="7.7" r=".5"/><circle cx="539" cy="7.7" r=".5"/><circle cx="546.6" cy="3.6" r=".4"/><circle cx="541.4" cy="3.6" r=".4"/><circle cx="541.4" cy="11.8" r=".4"/><circle cx="546.6" cy="11.8" r=".4"/></g><rect x="542.6" y="11.8" width="2.8" height=".9" fill="#58a8f0"/>
<path d="M559 7h5l-2.5 3z" fill="#000"/>
<rect x="575.5" y="1.5" width="15" height="13" fill="#fff" stroke="#3c78c0" stroke-width="1"/><rect x="576" y="2" width="14" height="2" fill="#5c98dc"/><path d="M576 8.8h14" stroke="#3c78c0" stroke-width=".9"/><path d="M577.4 7 h1.8 l1.6 -1.4 h2 l1.4 1 h1.6 l1.6 -1.4 h1.2" stroke="#a82808" stroke-width="1.1" fill="none"/><path d="M578.2 12.6 h1.6 l1.2 -.8 l1.4 .8 h1.2 l2 -2 l2.6 2.2" stroke="#0c9420" stroke-width="1.1" fill="none"/>
<path d="M598 7h5l-2.5 3z" fill="#000"/>
<rect x="609" y="0" width="1" height="20" fill="#a0a0a0" shape-rendering="crispEdges"/>
<rect x="610" y="0" width="1" height="19" fill="#fbfbfb" shape-rendering="crispEdges"/>
<g fill="#a6a6a6" shape-rendering="crispEdges"><rect x="613" y="0" width="3" height="1"/><rect x="613" y="2" width="3" height="1"/><rect x="613" y="4" width="3" height="1"/><rect x="613" y="6" width="3" height="1"/><rect x="613" y="8" width="3" height="1"/><rect x="613" y="10" width="3" height="1"/><rect x="613" y="12" width="3" height="1"/><rect x="613" y="14" width="3" height="1"/><rect x="613" y="16" width="3" height="1"/></g>
<rect x="619" y="0" width="25" height="19" fill="url(#chk)" shape-rendering="crispEdges"/>
<rect x="619" y="0" width="1" height="18" fill="#a0a0a0" shape-rendering="crispEdges"/>
<rect x="619" y="18" width="26" height="1" fill="#fff" shape-rendering="crispEdges"/>
<rect x="644" y="0" width="1" height="19" fill="#fff" shape-rendering="crispEdges"/>
<path d="M627 1 V12.2 L629.8 9.6 L632.4 15.2 L634.6 14.2 L632 8.8 L635.2 8.6 Z" fill="#4c4c4c"/>
<path d="M659.5 1V7M659.5 10V16M652 8.5H658M661 8.5H667" stroke="#4c4c4c" stroke-width="1" fill="none" shape-rendering="crispEdges"/><rect x="659" y="8" width="1" height="1" fill="#777"/>
<rect x="676" y="0" width="1" height="18" fill="#a0a0a0" shape-rendering="crispEdges"/>
<rect x="693" y="2" width="1" height="13" fill="#4c4c4c" shape-rendering="crispEdges"/>
<rect x="716" y="8" width="12" height="1" fill="#4c4c4c" shape-rendering="crispEdges"/>
<path d="M744 15 L756 3" stroke="#4c4c4c" stroke-width="1.1"/>
<g stroke="#4c4c4c" stroke-width="1" fill="none"><path d="M770 10 L778.6 2M771 14.4 L783 3M775 15 L784 6.6"/><path d="M773.4 7v7M776 5v7.4M778.8 3.4v6.4M781.8 0v7" stroke-width=".8"/></g>
<path d="M781.5 12.5v4.6h3.6M781.5 12.5h3.6M781.5 14.7h3" stroke="#4c4c4c" stroke-width="1.2" fill="none"/>
<path d="M799 1.5H812" stroke="#4c4c4c" stroke-width="1" stroke-dasharray="1 1" shape-rendering="crispEdges"/>
<path d="M799 4.5H812" stroke="#4c4c4c" stroke-width="1" stroke-dasharray="1 1" shape-rendering="crispEdges"/>
<path d="M799 8.5H812" stroke="#4c4c4c" stroke-width="1" stroke-dasharray="1 1" shape-rendering="crispEdges"/>
<path d="M799 12.5H808" stroke="#4c4c4c" stroke-width="1" stroke-dasharray="1 1" shape-rendering="crispEdges"/>
<path d="M809.6 17.2v-4.7h3.8M809.6 14.8h3" stroke="#4c4c4c" stroke-width="1.2" fill="none"/>
<path d="M830.4 13 L833.7 4.2 L837 13 M831.6 10.2h4.2" stroke="#4c4c4c" stroke-width="1.3" fill="none"/>
<rect x="856.5" y="2.5" width="11" height="12" fill="none" stroke="#4c4c4c" stroke-width="1" stroke-dasharray="1 1" shape-rendering="crispEdges"/><path d="M858.6 5.6h7.2M862.2 5.6V13" stroke="#4c4c4c" stroke-width="1.4" fill="none"/>
<path d="M886.4 2 L889.8 5.2 L886.4 6.6 L883 5.2z" fill="#4c4c4c"/><path d="M893.6 14.8 L890 11.6 L893.6 10.2 L897 11.6z" fill="#4c4c4c"/><path d="M885.6 9.4 L887.6 11.2 L891.8 6.4" stroke="#4c4c4c" stroke-width="1.2" fill="none"/>
<path d="M904 7h5l-2.5 3z" fill="#000"/>
<rect x="915" y="0" width="1" height="20" fill="#a0a0a0" shape-rendering="crispEdges"/>
<rect x="916" y="0" width="1" height="19" fill="#fbfbfb" shape-rendering="crispEdges"/>
<g fill="#a6a6a6" shape-rendering="crispEdges"><rect x="919" y="0" width="3" height="1"/><rect x="919" y="2" width="3" height="1"/><rect x="919" y="4" width="3" height="1"/><rect x="919" y="6" width="3" height="1"/><rect x="919" y="8" width="3" height="1"/><rect x="919" y="10" width="3" height="1"/><rect x="919" y="12" width="3" height="1"/><rect x="919" y="14" width="3" height="1"/><rect x="919" y="16" width="3" height="1"/></g>
<rect x="1066" y="0" width="24" height="19" fill="url(#chk)" shape-rendering="crispEdges"/>
<rect x="1066" y="0" width="1" height="18" fill="#a0a0a0" shape-rendering="crispEdges"/>
<rect x="1066" y="18" width="25" height="1" fill="#fff" shape-rendering="crispEdges"/>
<rect x="1090" y="0" width="1" height="19" fill="#fff" shape-rendering="crispEdges"/>
<text transform="translate(930 12) scale(.918 1)" fill="#3a3a3a" stroke="none" textLength="14.16" lengthAdjust="spacingAndGlyphs">M1</text>
<text transform="translate(958 12) scale(.918 1)" fill="#3a3a3a" stroke="none" textLength="14.71" lengthAdjust="spacingAndGlyphs">M5</text>
<text transform="translate(984 12) scale(.918 1)" fill="#3a3a3a" stroke="none" textLength="20.15" lengthAdjust="spacingAndGlyphs">M15</text>
<text transform="translate(1012 12) scale(.918 1)" fill="#3a3a3a" stroke="none" textLength="19.61" lengthAdjust="spacingAndGlyphs">M30</text>
<text transform="translate(1043.2 12) scale(.918 1)" fill="#3a3a3a" stroke="none" textLength="13.29" lengthAdjust="spacingAndGlyphs">H1</text>
<text transform="translate(1070.2 12) scale(.918 1)" fill="#3a3a3a" stroke="none" textLength="14.38" lengthAdjust="spacingAndGlyphs">H4</text>
<text transform="translate(1099.2 12) scale(.918 1)" fill="#3a3a3a" stroke="none" textLength="13.29" lengthAdjust="spacingAndGlyphs">D1</text>
<text transform="translate(1126.8 12) scale(.918 1)" fill="#3a3a3a" stroke="none" textLength="15.69" lengthAdjust="spacingAndGlyphs">W1</text>
<text transform="translate(1153.2 12) scale(.918 1)" fill="#3a3a3a" stroke="none" textLength="16.56" lengthAdjust="spacingAndGlyphs">MN</text>
<rect x="1176" y="0" width="1" height="18" fill="#a0a0a0" shape-rendering="crispEdges"/>
<path d="M1643.6 8.8 L1638.8 13.2" stroke="#2a62d4" stroke-width="2.4" stroke-linecap="round"/><circle cx="1646.6" cy="5.5" r="4.1" fill="#fbfbff" stroke="#2a62d4" stroke-width="1.2"/>
<ellipse cx="1669" cy="10" rx="6" ry="4.8" fill="#e4e4ee" stroke="#b4b4b4" stroke-width=".8"/><path d="M1666 13.6 L1666.6 16.6 L1669 14.2z" fill="#c4c4c8" stroke="#a8a8a8" stroke-width=".5"/><circle cx="1677.4" cy="5.4" r="8.3" fill="url(#rd)"/><path d="M1675 3.4 L1677.5 1.4 V9.4 M1675 9.6h5" stroke="#fff" stroke-width="1.25" fill="none"/>
</g></g>
</svg>
</body></html>
